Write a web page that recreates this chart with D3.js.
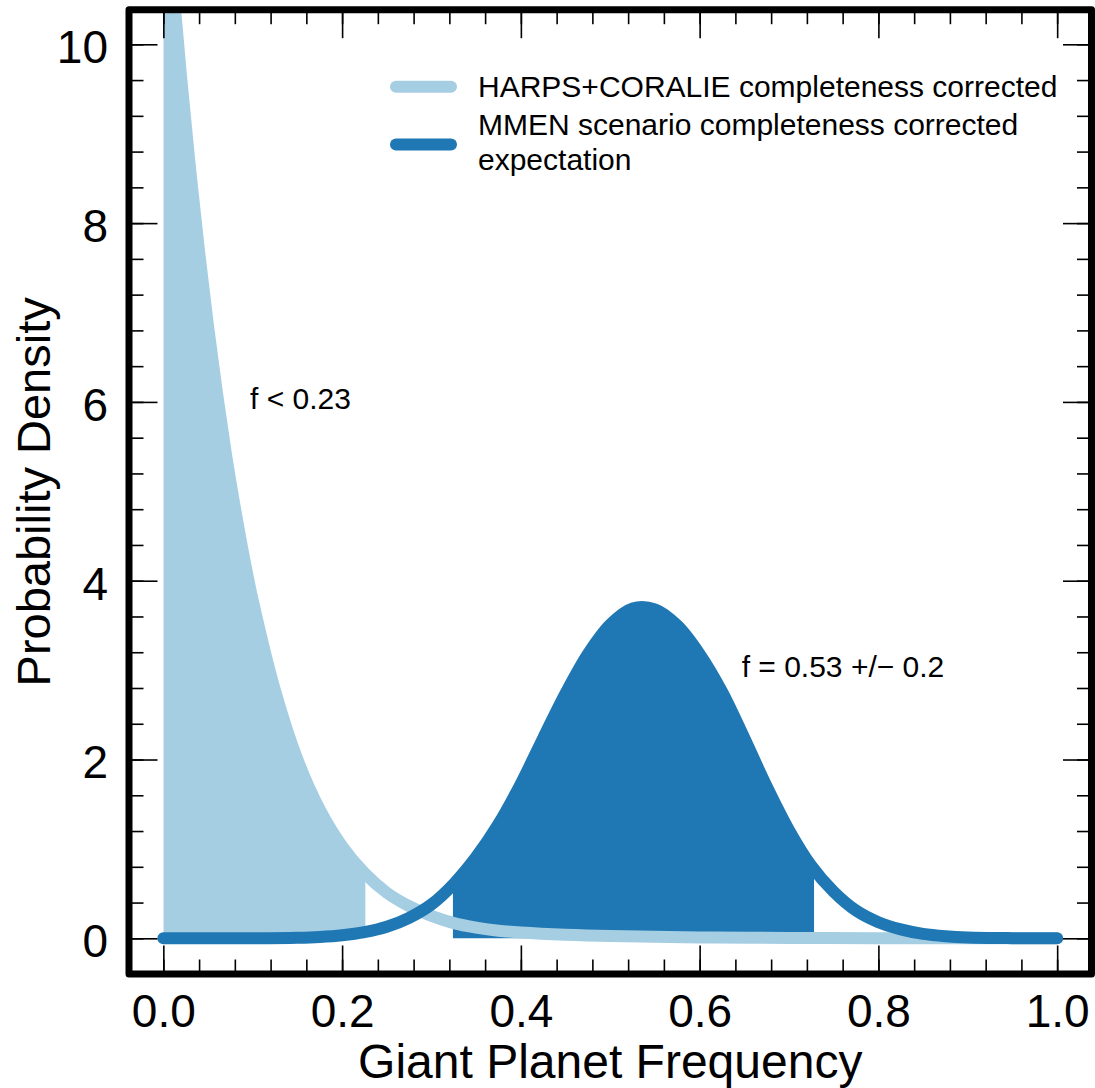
<!DOCTYPE html>
<html>
<head>
<meta charset="utf-8">
<script src="https://cdn.jsdelivr.net/npm/d3@7"></script>
<style>
  body { margin: 0; background: #fff; }
  svg { display: block; font-family: "Liberation Sans", Arial, sans-serif; }
</style>
</head>
<body>
<div id="chart"></div>
<script>
// values
const lightFreq    = [0.000, 0.010, 0.020, 0.030, 0.040, 0.050, 0.060, 0.070, 0.080, 0.090, 0.100, 0.125, 0.150, 0.175, 0.200, 0.225, 0.250, 0.275, 0.300, 0.325, 0.350, 0.375, 0.400, 0.450, 0.500, 0.600, 0.700, 0.800, 0.900, 1.000];
const lightDensity = [12.00, 10.75, 9.62, 8.60, 7.68, 6.85, 6.10, 5.42, 4.82, 4.27, 3.78, 2.77, 2.00, 1.44, 1.03, 0.73, 0.51, 0.36, 0.25, 0.17, 0.12, 0.085, 0.065, 0.04, 0.025, 0.01, 0.004, 0.001, 0.0, 0.0];

const darkFreq    = [0.000, 0.050, 0.100, 0.150, 0.175, 0.200, 0.225, 0.250, 0.275, 0.300, 0.325, 0.350, 0.375, 0.400, 0.425, 0.450, 0.475, 0.500, 0.525, 0.550, 0.575, 0.600, 0.625, 0.650, 0.675, 0.700, 0.725, 0.750, 0.775, 0.800, 0.825, 0.850, 0.875, 0.900, 0.950, 1.000];
const darkDensity = [0.00, 0.00, 0.001, 0.007, 0.016, 0.035, 0.07, 0.13, 0.23, 0.38, 0.61, 0.91, 1.28, 1.73, 2.24, 2.74, 3.18, 3.51, 3.69, 3.68, 3.50, 3.18, 2.76, 2.24, 1.70, 1.21, 0.81, 0.52, 0.31, 0.18, 0.10, 0.05, 0.024, 0.010, 0.002, 0.0];

const lightFillRange = [0.0, 0.226];
const darkFillRange  = [0.324, 0.728];

const xMajorTicks = [0.0, 0.2, 0.4, 0.6, 0.8, 1.0];
const yMajorTicks = [0, 2, 4, 6, 8, 10];

const legendLabels = ["HARPS+CORALIE completeness corrected", ["MMEN scenario completeness corrected", "expectation"]];
const notes = [
  { text: "f < 0.23", x: 0.097, y: 5.92 },
  { text: "f = 0.53 +/\u2212 0.2", x: 0.647, y: 2.92 }
];

const lightBlue = "#a6cee3", darkBlue = "#1f78b4";

const width = 1095, height = 1088;
const frame = { left: 129, top: 9.7, right: 1091.5, bottom: 974 };
const inner = { left: 132.5, top: 13.2, right: 1088, bottom: 970.5 };

const svg = d3.select("#chart").append("svg")
    .attr("width", width)
    .attr("height", height);

const x = d3.scaleLinear().domain([-0.0345, 1.0345]).range([inner.left, inner.right]);
const y = d3.scaleLinear().domain([-0.36, 10.348]).range([inner.bottom, inner.top]);

const defs = svg.append("defs");
defs.append("clipPath").attr("id", "plotClip")
  .append("rect")
    .attr("x", inner.left).attr("y", inner.top)
    .attr("width", inner.right - inner.left).attr("height", inner.bottom - inner.top);
defs.append("clipPath").attr("id", "lightFillClip")
  .append("rect")
    .attr("x", x(lightFillRange[0])).attr("y", inner.top)
    .attr("width", x(lightFillRange[1]) - x(lightFillRange[0])).attr("height", inner.bottom - inner.top);
defs.append("clipPath").attr("id", "darkFillClip")
  .append("rect")
    .attr("x", x(darkFillRange[0])).attr("y", inner.top)
    .attr("width", x(darkFillRange[1]) - x(darkFillRange[0])).attr("height", inner.bottom - inner.top);

const lightData = lightFreq.map((f, i) => [f, lightDensity[i]]);
const darkData = darkFreq.map((f, i) => [f, darkDensity[i]]);

const curve = d3.curveCatmullRom.alpha(0.5);

const line = d3.line()
    .x(d => x(d[0]))
    .y(d => y(d[1]))
    .curve(curve);

const area = d3.area()
    .x(d => x(d[0]))
    .y0(y(0))
    .y1(d => y(d[1]))
    .curve(curve);

const plot = svg.append("g").attr("clip-path", "url(#plotClip)");

plot.append("g").attr("clip-path", "url(#lightFillClip)")
  .append("path")
    .attr("d", area(lightData))
    .attr("fill", lightBlue);

plot.append("g").attr("clip-path", "url(#darkFillClip)")
  .append("path")
    .attr("d", area(darkData))
    .attr("fill", darkBlue);

plot.append("path")
    .attr("d", line(lightData))
    .attr("fill", "none")
    .attr("stroke", lightBlue)
    .attr("stroke-width", 12)
    .attr("stroke-linecap", "round")
    .attr("stroke-linejoin", "round");

plot.append("path")
    .attr("d", line(darkData))
    .attr("fill", "none")
    .attr("stroke", darkBlue)
    .attr("stroke-width", 12)
    .attr("stroke-linecap", "round")
    .attr("stroke-linejoin", "round");

// legend
const legend = svg.append("g");
legend.append("line")
    .attr("x1", 396).attr("x2", 451).attr("y1", 86.7).attr("y2", 86.7)
    .attr("stroke", lightBlue).attr("stroke-width", 12).attr("stroke-linecap", "round");
legend.append("line")
    .attr("x1", 396).attr("x2", 451).attr("y1", 144.5).attr("y2", 144.5)
    .attr("stroke", darkBlue).attr("stroke-width", 12).attr("stroke-linecap", "round");
legend.append("text")
    .attr("x", 478).attr("y", 97.3)
    .attr("font-size", 30)
    .text(legendLabels[0]);
const multi = legend.append("text")
    .attr("x", 478).attr("y", 135)
    .attr("font-size", 30);
legendLabels[1].forEach((t, i) => {
  multi.append("tspan").attr("x", 478).attr("dy", i === 0 ? 0 : 35).text(t);
});

svg.selectAll(".note")
  .data(notes)
  .enter().append("text")
    .attr("class", "note")
    .attr("x", d => x(d.x))
    .attr("y", d => y(d.y))
    .attr("font-size", 30)
    .text(d => d.text);

// ticks on all four sides, pointing inward
const major = 28.5, minor = 14.5;
const xMinor = d3.range(0, 1.0001, 0.04);
const yMinor = d3.range(0, 10.001, 0.4);

function styleAxis(g) {
  g.select(".domain").remove();
  g.selectAll(".tick line").attr("stroke", "#000").attr("stroke-width", 1.6);
  g.selectAll("text").attr("fill", "#000").attr("font-size", 46)
    .attr("font-family", "'Liberation Sans', Arial, sans-serif");
}

svg.append("g").attr("transform", `translate(0,${frame.bottom})`)
  .call(d3.axisBottom(x).tickValues(xMinor).tickSize(-minor).tickFormat(""))
  .call(styleAxis);
svg.append("g").attr("transform", `translate(0,${frame.bottom})`)
  .call(d3.axisBottom(x).tickValues(xMajorTicks).tickSize(-major).tickPadding(20.5).tickFormat(d3.format(".1f")))
  .call(styleAxis);
svg.append("g").attr("transform", `translate(0,${frame.top})`)
  .call(d3.axisTop(x).tickValues(xMinor).tickSize(-minor).tickFormat(""))
  .call(styleAxis);
svg.append("g").attr("transform", `translate(0,${frame.top})`)
  .call(d3.axisTop(x).tickValues(xMajorTicks).tickSize(-major).tickFormat(""))
  .call(styleAxis);

svg.append("g").attr("transform", `translate(${frame.left},0)`)
  .call(d3.axisLeft(y).tickValues(yMinor).tickSize(-minor).tickFormat(""))
  .call(styleAxis);
svg.append("g").attr("transform", `translate(${frame.left},0)`)
  .call(d3.axisLeft(y).tickValues(yMajorTicks).tickSize(-major).tickPadding(21).tickFormat(d3.format("d")))
  .call(styleAxis)
  .selectAll("text").attr("dy", "0.4em");
svg.append("g").attr("transform", `translate(${frame.right},0)`)
  .call(d3.axisRight(y).tickValues(yMinor).tickSize(-minor).tickFormat(""))
  .call(styleAxis);
svg.append("g").attr("transform", `translate(${frame.right},0)`)
  .call(d3.axisRight(y).tickValues(yMajorTicks).tickSize(-major).tickFormat(""))
  .call(styleAxis);

// frame
svg.append("rect")
    .attr("x", frame.left).attr("y", frame.top)
    .attr("width", frame.right - frame.left).attr("height", frame.bottom - frame.top)
    .attr("fill", "none")
    .attr("stroke", "#000")
    .attr("stroke-width", 7)
    .attr("stroke-linejoin", "round");

// axis labels
svg.append("text")
    .attr("x", (frame.left + frame.right) / 2)
    .attr("y", 1078)
    .attr("text-anchor", "middle")
    .attr("font-size", 48)
    .text("Giant Planet Frequency");

svg.append("text")
    .attr("transform", `translate(50,${(frame.top + frame.bottom) / 2}) rotate(-90)`)
    .attr("text-anchor", "middle")
    .attr("font-size", 47)
    .text("Probability Density");
</script>
</body>
</html>
